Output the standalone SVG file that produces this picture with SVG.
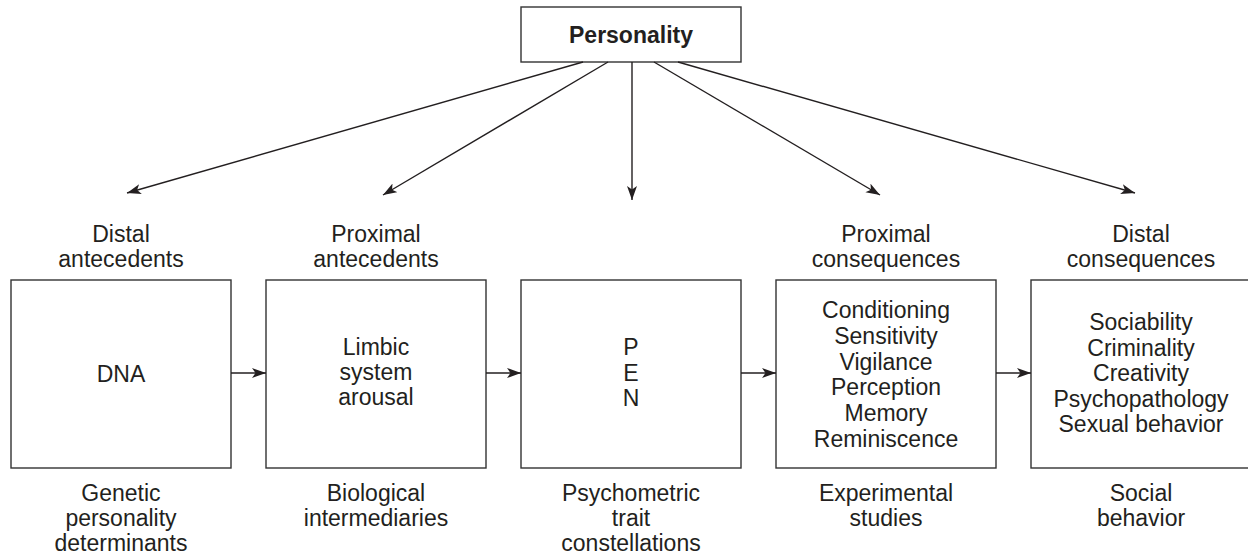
<svg xmlns="http://www.w3.org/2000/svg" width="1248" height="554" viewBox="0 0 1248 554">
<style>
.box{fill:#fff;stroke:#333;stroke-width:1.4}
.t{font-family:"Liberation Sans",Arial,sans-serif;font-size:23px;fill:#231f20;text-anchor:middle}
.b{font-weight:bold}
.c{stroke:#231f20;stroke-width:1.4;fill:none;marker-end:url(#ah)}
</style>
<defs>
<marker id="ah" markerUnits="userSpaceOnUse" markerWidth="16" markerHeight="12" refX="14" refY="5" orient="auto">
<path d="M0,0 L14,5 L0,10 L3.5,5 z" fill="#231f20"/>
</marker>
</defs>
<rect width="1248" height="554" fill="#fff"/>
<g id="personality">
<rect class="box" x="521" y="7" width="220" height="55"/>
<text class="t b" x="631" y="43">Personality</text>
</g>
<g id="distal-antecedents">
<text class="t" x="121" y="242">Distal</text>
<text class="t" x="121" y="267">antecedents</text>
<rect class="box" x="11" y="280" width="220" height="188"/>
<text class="t" x="121" y="382">DNA</text>
<text class="t" x="121" y="501">Genetic</text>
<text class="t" x="121" y="526">personality</text>
<text class="t" x="121" y="551">determinants</text>
</g>
<g id="proximal-antecedents">
<text class="t" x="376" y="242">Proximal</text>
<text class="t" x="376" y="267">antecedents</text>
<rect class="box" x="266" y="280" width="220" height="188"/>
<text class="t" x="376" y="355">Limbic</text>
<text class="t" x="376" y="380">system</text>
<text class="t" x="376" y="405">arousal</text>
<text class="t" x="376" y="501">Biological</text>
<text class="t" x="376" y="526">intermediaries</text>
</g>
<g id="pen">
<rect class="box" x="521" y="280" width="220" height="188"/>
<text class="t" x="631" y="355">P</text>
<text class="t" x="631" y="381">E</text>
<text class="t" x="631" y="406">N</text>
<text class="t" x="631" y="501">Psychometric</text>
<text class="t" x="631" y="526">trait</text>
<text class="t" x="631" y="551">constellations</text>
</g>
<g id="proximal-consequences">
<text class="t" x="886" y="242">Proximal</text>
<text class="t" x="886" y="267">consequences</text>
<rect class="box" x="776" y="280" width="220" height="188"/>
<text class="t" x="886" y="318">Conditioning</text>
<text class="t" x="886" y="344">Sensitivity</text>
<text class="t" x="886" y="370">Vigilance</text>
<text class="t" x="886" y="395">Perception</text>
<text class="t" x="886" y="421">Memory</text>
<text class="t" x="886" y="447">Reminiscence</text>
<text class="t" x="886" y="501">Experimental</text>
<text class="t" x="886" y="526">studies</text>
</g>
<g id="distal-consequences">
<text class="t" x="1141" y="242">Distal</text>
<text class="t" x="1141" y="267">consequences</text>
<rect class="box" x="1031" y="280" width="220" height="188"/>
<text class="t" x="1141" y="330">Sociability</text>
<text class="t" x="1141" y="356">Criminality</text>
<text class="t" x="1141" y="381">Creativity</text>
<text class="t" x="1141" y="407">Psychopathology</text>
<text class="t" x="1141" y="432">Sexual behavior</text>
<text class="t" x="1141" y="501">Social</text>
<text class="t" x="1141" y="526">behavior</text>
</g>
<g id="connectors">
<line class="c" x1="583" y1="62" x2="127" y2="193"/>
<line class="c" x1="608" y1="62" x2="383" y2="195"/>
<line class="c" x1="632" y1="62" x2="632" y2="200"/>
<line class="c" x1="654" y1="62" x2="880" y2="195"/>
<line class="c" x1="678" y1="62" x2="1135" y2="193"/>
<line class="c" x1="231" y1="373" x2="266" y2="373"/>
<line class="c" x1="486" y1="373" x2="521" y2="373"/>
<line class="c" x1="741" y1="373" x2="776" y2="373"/>
<line class="c" x1="996" y1="373" x2="1031" y2="373"/>
</g>
</svg>
